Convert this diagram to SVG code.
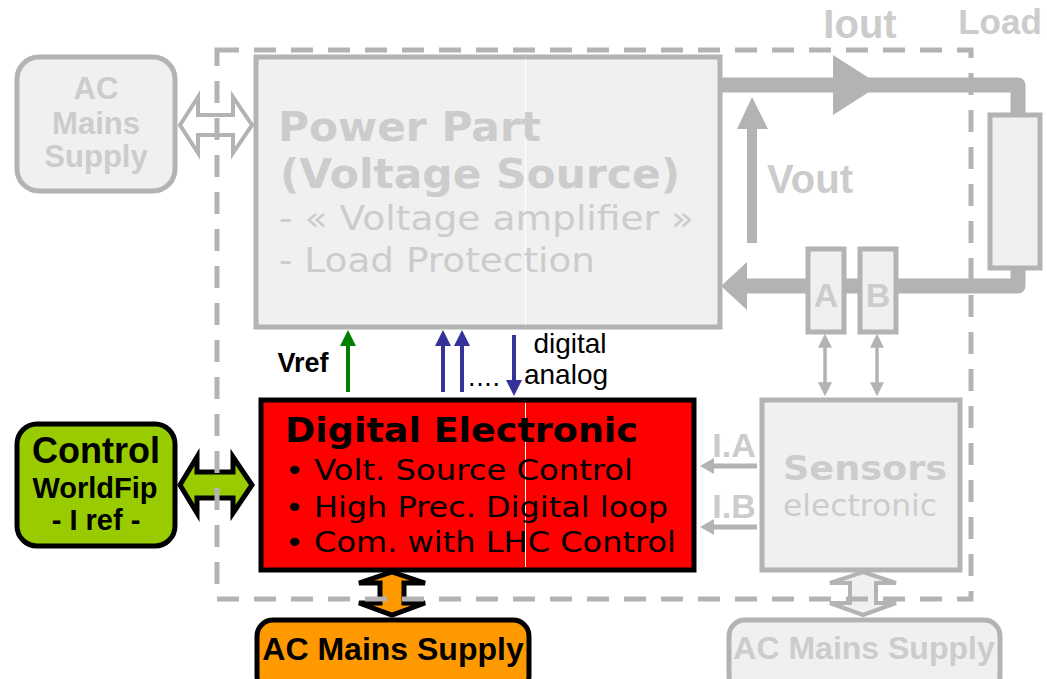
<svg xmlns="http://www.w3.org/2000/svg" width="1047" height="679" viewBox="0 0 1047 679">
<style>
.box{fill:#f0f0f0;stroke:#b3b3b3;stroke-width:5}
.wire{fill:none;stroke:#b3b3b3;stroke-width:15;stroke-linejoin:round}
.gt{fill:#cccccc}
.ab{font-family:"Liberation Sans",Arial,sans-serif;font-weight:bold}
.ar{font-family:"Liberation Sans",Arial,sans-serif}
.db{font-family:"DejaVu Sans",Verdana,sans-serif;font-weight:bold}
.dr{font-family:"DejaVu Sans",Verdana,sans-serif}
.ghead{fill:#b3b3b3}
</style>
<defs>
<marker id="mg" viewBox="0 0 10 10" refX="2" refY="5" markerWidth="4" markerHeight="4" orient="auto-start-reverse" markerUnits="strokeWidth"><path d="M0,0 L10,5 L0,10 z" fill="#b3b3b3"/></marker>
</defs>
<rect width="1047" height="679" fill="#ffffff"/>

<g id="connectors">
<polygon points="180,125 198,97 198,115 233,115 233,97 252,125 233,153 233,135 198,135 198,153" fill="#ffffff" stroke="#b3b3b3" stroke-width="4" stroke-linejoin="miter"/>
<polygon points="180,485 197,457 197,472 233,472 233,457 252,485 233,513 233,498 197,498 197,513" fill="#99cc00" stroke="#000000" stroke-width="5"/>
<polygon points="392,572 425,583 404,583 404,603 425,603 392,615 359,603 380,603 380,583 359,583" fill="#ff9900" stroke="#000000" stroke-width="5"/>
<polygon points="863,572 896,583 876,583 876,603 896,603 863,615 830,603 850,603 850,583 830,583" fill="#f0f0f0" stroke="#b3b3b3" stroke-width="4"/>
<polyline class="wire" points="721,85 1018,85 1018,118"/>
<polyline class="wire" points="1018,266 1018,286 740,286"/>
<polygon class="ghead" points="833,55 880,85 833,115"/>
<polygon class="ghead" points="721,286 747,262 747,310"/>
<rect x="747" y="126" width="10" height="117" fill="#b3b3b3"/>
<polygon class="ghead" points="737,129 752,97 768,129"/>
<line x1="825" y1="345" x2="825" y2="385" stroke="#b3b3b3" stroke-width="3.5" marker-start="url(#mg)" marker-end="url(#mg)"/>
<line x1="877" y1="345" x2="877" y2="385" stroke="#b3b3b3" stroke-width="3.5" marker-start="url(#mg)" marker-end="url(#mg)"/>
<line x1="757" y1="466" x2="712" y2="466" stroke="#b3b3b3" stroke-width="5"/>
<polygon class="ghead" points="700,466 714,458 714,474"/>
<line x1="757" y1="527" x2="712" y2="527" stroke="#b3b3b3" stroke-width="5"/>
<polygon class="ghead" points="700,527 714,519 714,535"/>
<line x1="348" y1="392" x2="348" y2="344" stroke="#008000" stroke-width="4"/>
<polygon points="340,346 348,330 356,346" fill="#008000"/>
<line x1="443" y1="392" x2="443" y2="344" stroke="#333399" stroke-width="4"/>
<polygon points="435,346 443,330 451,346" fill="#333399"/>
<line x1="462" y1="392" x2="462" y2="344" stroke="#333399" stroke-width="4"/>
<polygon points="454,346 462,330 470,346" fill="#333399"/>
<line x1="514" y1="335" x2="514" y2="382" stroke="#333399" stroke-width="4"/>
<polygon points="506,380 514,396 522,380" fill="#333399"/>
</g>

<g id="power-part">
<rect class="box" x="256" y="57" width="464" height="270"/>
<line x1="525.5" y1="59" x2="525.5" y2="325" stroke="#ffffff" stroke-width="1"/>
<text class="db gt" x="278" y="141" font-size="41" textLength="263" lengthAdjust="spacingAndGlyphs">Power Part</text>
<text class="db gt" x="280" y="188" font-size="41" textLength="400" lengthAdjust="spacingAndGlyphs">(Voltage Source)</text>
<text class="dr gt" x="279" y="230" font-size="34" textLength="415" lengthAdjust="spacingAndGlyphs">- « Voltage amplifier »</text>
<text class="dr gt" x="279" y="272" font-size="34" textLength="316" lengthAdjust="spacingAndGlyphs">- Load Protection</text>
</g>

<g id="ac-left">
<rect class="box" x="17" y="57" width="158" height="134" rx="22"/>
<text class="ab gt" x="96" y="99" font-size="31" text-anchor="middle">AC</text>
<text class="ab gt" x="96" y="134" font-size="31" text-anchor="middle">Mains</text>
<text class="ab gt" x="96" y="167" font-size="31" text-anchor="middle">Supply</text>
</g>

<g id="load">
<rect class="box" x="990" y="115" width="50" height="153"/>
<text class="ab gt" x="1000" y="34" font-size="35" text-anchor="middle">Load</text>
</g>

<g id="sensor-a">
<rect class="box" x="808" y="249" width="36" height="83"/>
<text class="ab gt" x="826" y="307" font-size="34" text-anchor="middle">A</text>
</g>
<g id="sensor-b">
<rect class="box" x="860" y="249" width="36" height="83"/>
<text class="ab gt" x="878" y="307" font-size="34" text-anchor="middle">B</text>
</g>

<g id="labels">
<text class="ab gt" x="860" y="38" font-size="40" text-anchor="middle">Iout</text>
<text class="ab gt" x="810" y="193" font-size="40" text-anchor="middle">Vout</text>
<text class="ab gt" x="734" y="457" font-size="34" text-anchor="middle">I.A</text>
<text class="ab gt" x="734" y="518" font-size="34" text-anchor="middle">I.B</text>
<text class="ab" x="303" y="372" font-size="27" text-anchor="middle" fill="#000">Vref</text>
<text class="ar" x="468" y="386" font-size="27" textLength="32" fill="#000">....</text>
<text class="ar" x="570" y="353" font-size="28" text-anchor="middle" fill="#000">digital</text>
<text class="ar" x="566" y="384" font-size="28" text-anchor="middle" fill="#000">analog</text>
</g>

<g id="sensors">
<rect class="box" x="762" y="400" width="198" height="170"/>
<text class="db gt" x="783" y="480" font-size="34" textLength="164" lengthAdjust="spacingAndGlyphs">Sensors</text>
<text class="dr gt" x="783" y="516" font-size="30" textLength="154" lengthAdjust="spacingAndGlyphs">electronic</text>
</g>

<g id="control">
<rect x="17" y="424" width="158" height="122" rx="20" fill="#99cc00" stroke="#000" stroke-width="5"/>
<text class="ab" x="96" y="463" font-size="36" text-anchor="middle" fill="#000">Control</text>
<text class="ab" x="95" y="498" font-size="29" text-anchor="middle" fill="#000">WorldFip</text>
<text class="ab" x="96" y="530" font-size="29" text-anchor="middle" fill="#000">- I ref -</text>
</g>

<g id="digital-electronic">
<rect x="261" y="400" width="433" height="170" fill="#ff0000" stroke="#000" stroke-width="5"/>
<line x1="525.5" y1="403" x2="525.5" y2="567" stroke="#ffffff" stroke-width="1"/>
<text class="db" x="285" y="442" font-size="34" textLength="353" lengthAdjust="spacingAndGlyphs" fill="#000">Digital Electronic</text>
<text class="dr" x="285" y="480" font-size="29" textLength="348" lengthAdjust="spacingAndGlyphs" fill="#000">• Volt. Source Control</text>
<text class="dr" x="285" y="517" font-size="29" textLength="383" lengthAdjust="spacingAndGlyphs" fill="#000">• High Prec. Digital loop</text>
<text class="dr" x="285" y="552" font-size="29" textLength="391" lengthAdjust="spacingAndGlyphs" fill="#000">• Com. with LHC Control</text>
</g>

<g id="ac-orange">
<rect x="257" y="620" width="272" height="72" rx="16" fill="#ff9900" stroke="#000" stroke-width="5"/>
<text class="ab" x="393" y="660" font-size="32" text-anchor="middle" fill="#000">AC Mains Supply</text>
</g>

<g id="ac-right">
<rect class="box" x="729" y="620" width="271" height="72" rx="16"/>
<text class="ab gt" x="864" y="659" font-size="32" text-anchor="middle">AC Mains Supply</text>
</g>

<g id="boundary">
<rect x="217" y="50" width="754" height="549" fill="none" stroke="#b3b3b3" stroke-width="5" stroke-dasharray="22 15"/>
</g>
</svg>
